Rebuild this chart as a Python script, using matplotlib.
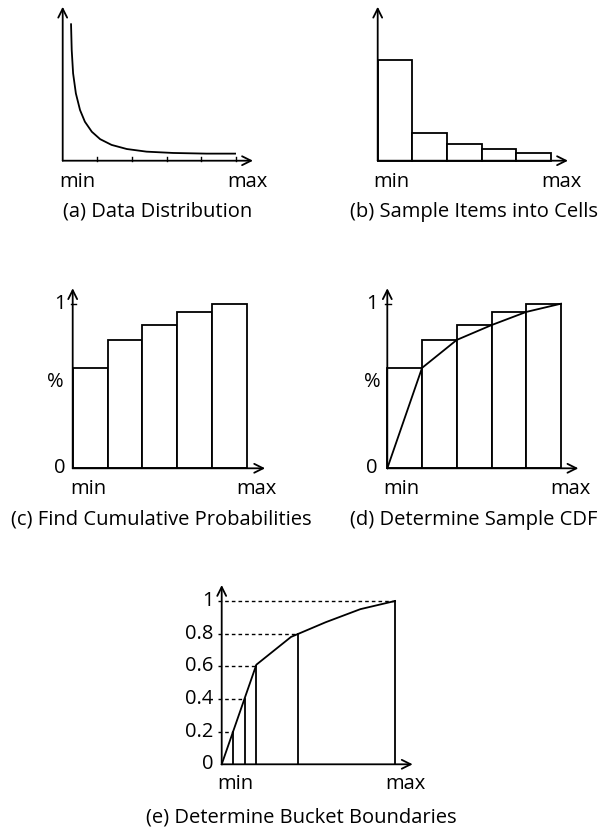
import matplotlib
matplotlib.use("Agg")
import matplotlib.pyplot as plt

plt.rcParams['font.family'] = ['Open Sans', 'DejaVu Sans']

# ---------------- data ----------------
# (a) data distribution curve (x in cells, y in fraction of axis height)
dist_x = [0.24, 0.26, 0.30, 0.38, 0.50, 0.64, 0.84, 1.08, 1.41, 1.85, 2.42, 3.19, 4.15, 5.0]
dist_y = [0.835, 0.673, 0.531, 0.409, 0.308, 0.237, 0.176, 0.131, 0.096, 0.071, 0.055, 0.047, 0.043, 0.043]
cell_ticks = [1, 2, 3, 4, 5]
# (b) sampled items per cell (relative)
cell_freq = [0.61, 0.168, 0.10, 0.073, 0.049]
# (c) cumulative probabilities per cell
cum_prob = [0.61, 0.78, 0.87, 0.95, 1.0]
# (d) sample CDF vertices
cdf_x = [0, 1, 2, 3, 4, 5]
cdf_y = [0, 0.61, 0.78, 0.87, 0.95, 1.0]
# (e) bucket boundaries
bucket_levels = [0.2, 0.4, 0.6, 0.8, 1.0]
bucket_x = [0.33, 0.66, 0.98, 2.2, 5.0]
e_ticks = [0, 0.2, 0.4, 0.6, 0.8, 1]
e_ticklabels = ['0', '0.2', '0.4', '0.6', '0.8', '1']

captions = ['(a) Data Distribution', '(b) Sample Items into Cells',
            '(c) Find Cumulative Probabilities', '(d) Determine Sample CDF',
            '(e) Determine Bucket Boundaries']

W, H = 602, 831
fig = plt.figure(figsize=(W / 100, H / 100), dpi=100)
LW = 1.3
FS = 14.5


def make_ax(x0, y0, xu, yu):
    ax = fig.add_axes([x0 / W, (H - y0) / H, 5 * xu / W, yu / H])
    ax.set_xlim(0, 5)
    ax.set_ylim(0, 1)
    ax.axis('off')
    return ax


def axes_arrows(ax, xend, yend):
    ap = dict(arrowstyle='->', lw=LW, color='black', shrinkA=0, shrinkB=0,
              mutation_scale=16)
    ax.annotate('', xy=(xend, 0), xytext=(0, 0), arrowprops=ap, annotation_clip=False)
    ax.annotate('', xy=(0, yend), xytext=(0, 0), arrowprops=ap, annotation_clip=False)


def minmax(ax, xmin=0.4, xmax=5.3, dy=-15):
    ax.annotate('min', xy=(xmin, 0), xytext=(0, dy), textcoords='offset points',
                ha='center', va='center', fontsize=FS, annotation_clip=False)
    ax.annotate('max', xy=(xmax, 0), xytext=(0, dy), textcoords='offset points',
                ha='center', va='center', fontsize=FS, annotation_clip=False)


def ylab(ax, y, s, dx):
    ax.annotate(s, xy=(0, y), xytext=(dx, 0), textcoords='offset points',
                ha='center', va='center', fontsize=FS, annotation_clip=False)


def bars(ax, heights):
    ax.bar([i + 0.5 for i in range(len(heights))], heights, width=1.0,
           facecolor='white', edgecolor='black', linewidth=LW, clip_on=False, zorder=2)


# (a)
axa = make_ax(62.7, 160.7, 34.66, 164.5)
axes_arrows(axa, 5.49, 0.936)
axa.plot(dist_x, dist_y, color='black', lw=LW, clip_on=False, solid_capstyle='butt')
for t in cell_ticks:
    axa.plot([t, t], [0, 4 / 164.5], color='black', lw=1.0, clip_on=False)
minmax(axa, 0.42, 5.33)

# (b)
axb = make_ax(377.7, 160.7, 34.66, 164.5)
bars(axb, cell_freq)
axes_arrows(axb, 5.49, 0.936)
minmax(axb, 0.40, 5.3)

# (c)
axc = make_ax(72.7, 468.3, 34.86, 164.6)
bars(axc, cum_prob)
axes_arrows(axc, 5.52, 1.094)
axc.plot([-0.06, 0.1], [1, 1], color='black', lw=1.0, clip_on=False)
ylab(axc, 1, '1', -9.5)
ylab(axc, 0.526, '%', -12.5)
ylab(axc, 0, '0', -9.5)
minmax(axc, 0.45, 5.28)

# (d)
axd = make_ax(387.3, 468.3, 34.74, 164.6)
bars(axd, cum_prob)
axd.plot(cdf_x, cdf_y, color='black', lw=LW, clip_on=False, zorder=3)
axes_arrows(axd, 5.5, 1.094)
axd.plot([-0.06, 0.1], [1, 1], color='black', lw=1.0, clip_on=False)
ylab(axd, 1, '1', -11)
ylab(axd, 0.526, '%', -11)
ylab(axd, 0, '0', -11)
minmax(axd, 0.41, 5.26)

# (e)
axe = make_ax(221.7, 764.3, 34.66, 163.3)
axe.plot(cdf_x, cdf_y, color='black', lw=LW, clip_on=False, zorder=3)
for bx, lv in zip(bucket_x, bucket_levels):
    axe.plot([-0.12, bx], [lv, lv], color='black', lw=1.0,
             linestyle=(0, (2.6, 2.2)), clip_on=False)
    axe.plot([bx, bx], [0, lv], color='black', lw=LW, clip_on=False)
axes_arrows(axe, 5.51, 1.098)
for t, s in zip(e_ticks, e_ticklabels):
    axe.annotate(s, xy=(0, t), xytext=(-6, 0), textcoords='offset points',
                 ha='right', va='center', fontsize=FS, annotation_clip=False)
minmax(axe, 0.38, 5.29, dy=-14)

# captions
cap_pos = [(158, 212), (474, 212), (161, 520), (474, 520), (301, 817)]
for s, (cx, cy) in zip(captions, cap_pos):
    fig.text(cx / W, 1 - cy / H, s, ha='center', va='center', fontsize=FS)

fig.savefig('out.png', dpi=100, facecolor='white')
